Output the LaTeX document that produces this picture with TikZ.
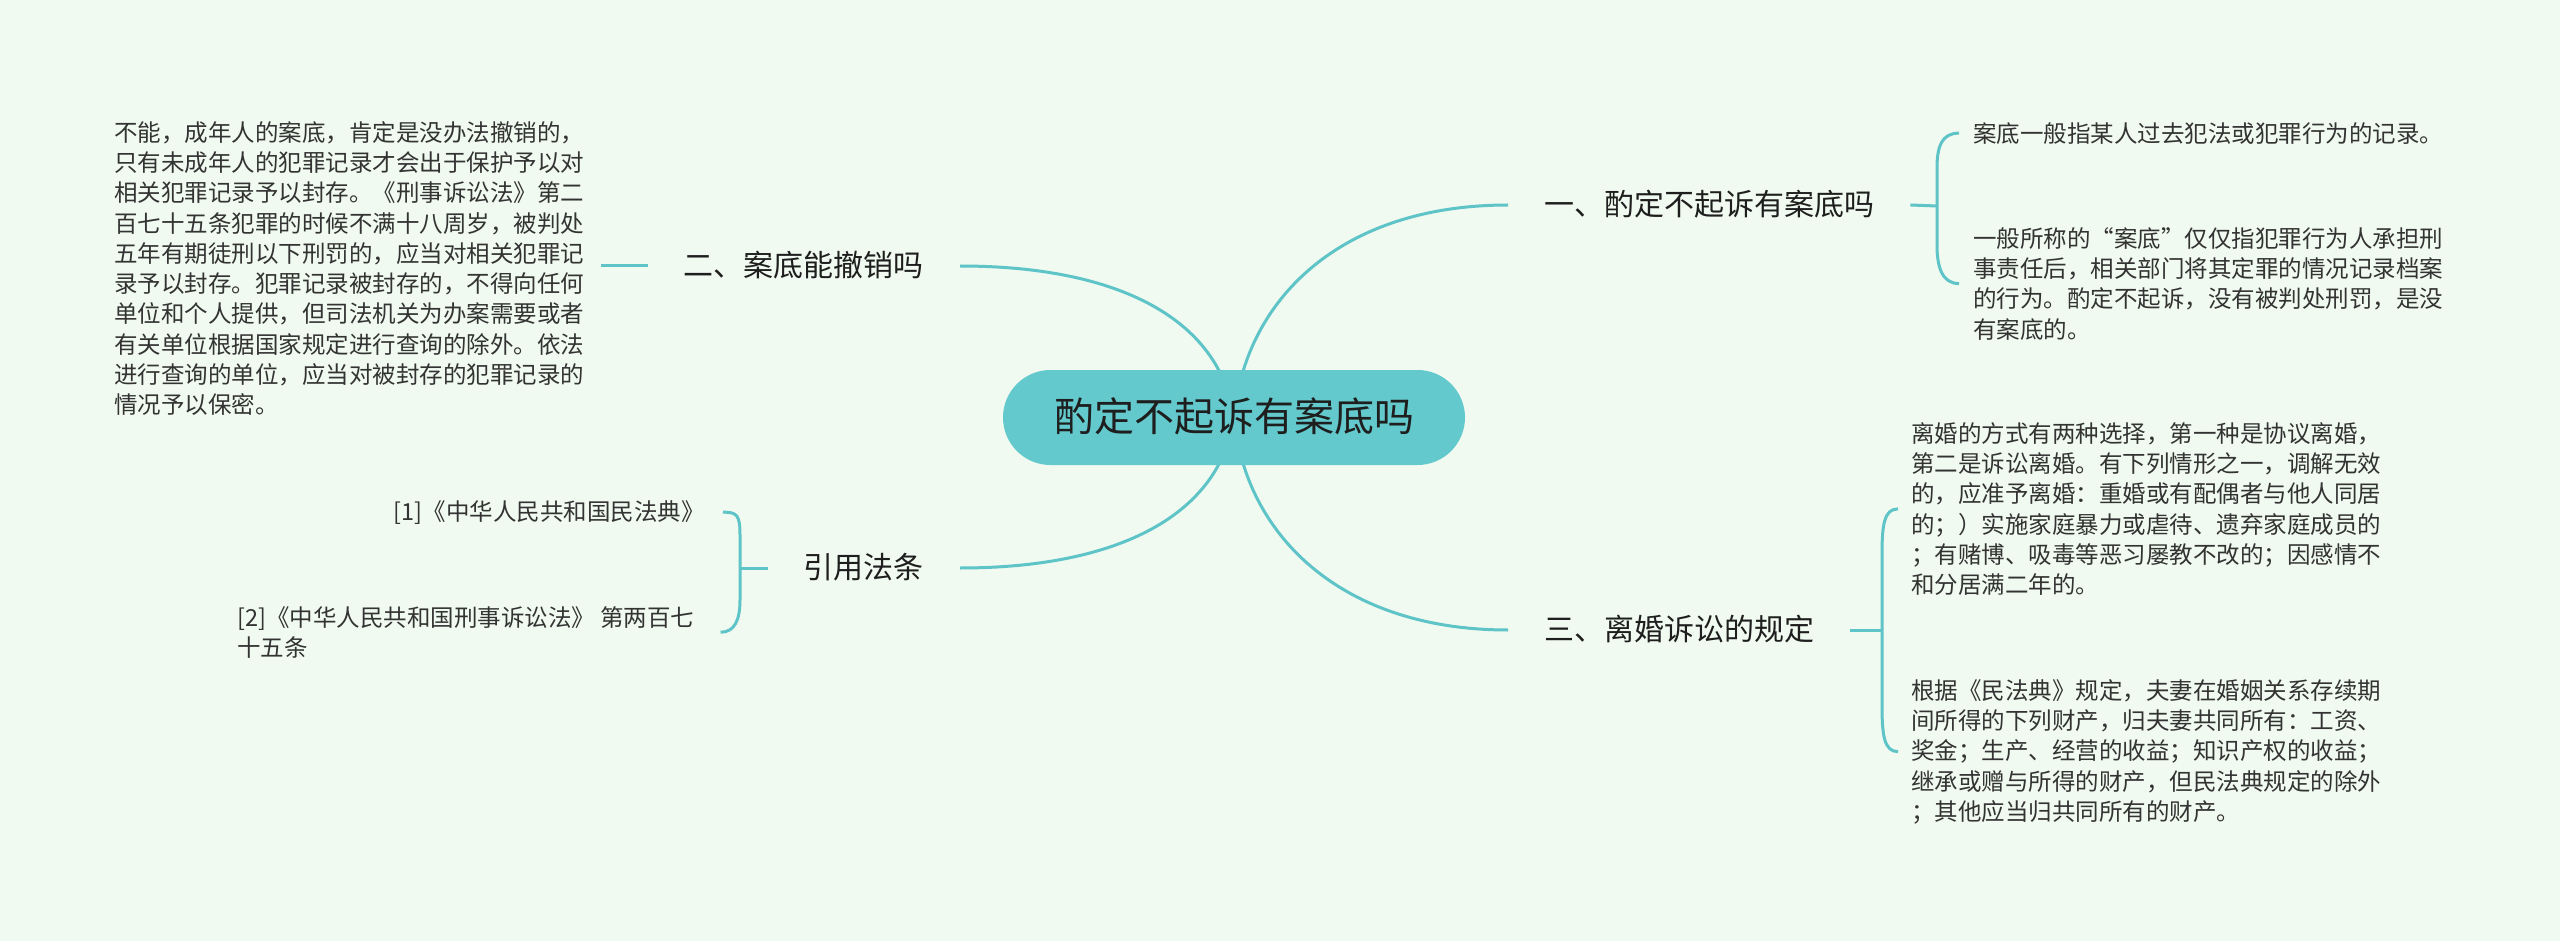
\documentclass[tikz,border=0pt]{standalone}
\usepackage{fontspec}
\newfontfamily\cjkfont{Noto Sans CJK SC}
\usetikzlibrary{calc}
\definecolor{bgc}{RGB}{240,250,240}
\definecolor{linec}{RGB}{94,196,200}
\definecolor{centc}{RGB}{99,201,204}
\definecolor{txt}{RGB}{51,51,51}
\definecolor{txtd}{RGB}{30,30,30}
\pgfdeclarelayer{back}
\pgfdeclarelayer{bg}
\pgfsetlayers{back,bg,main}
\begin{document}
\begin{tikzpicture}[x=1pt,y=-1pt,
  conn/.style={draw=linec,line width=3pt},
  centernode/.style={fill=centc, rounded corners=47.5pt, minimum width=462pt, minimum height=95pt, inner sep=0pt, text height=34pt, text depth=6pt, font=\cjkfont\fontsize{40}{48}\selectfont, text=txtd},
  branch/.style={inner xsep=36pt, inner ysep=0pt, text height=25.5pt, text depth=4.5pt, font=\cjkfont\fontsize{30}{36}\selectfont, text=txtd},
  leaf/.style={inner sep=0pt, align=left, font=\cjkfont\fontsize{23.5}{30.3}\selectfont, text=txt},
]
\useasboundingbox (0,0) rectangle (2560,941);
\begin{pgfonlayer}{back}
\fill[bgc] (0,0) rectangle (2560,941);
\end{pgfonlayer}

\node[centernode] (center) at (1234,417.5) {酌定不起诉有案底吗};
\node[branch, anchor=west] (b1) at (1508,205) {一、酌定不起诉有案底吗};
\node[branch, anchor=west] (b3) at (1508,630) {三、离婚诉讼的规定};
\node[branch, anchor=east] (b2) at (960,266) {二、案底能撤销吗};
\node[branch, anchor=east] (b4) at (960,568) {引用法条};

\node[leaf, anchor=north west] (l2) at (114,121) {不能，成年人的案底，肯定是没办法撤销的，\\只有未成年人的犯罪记录才会出于保护予以对\\相关犯罪记录予以封存。《刑事诉讼法》第二\\百七十五条犯罪的时候不满十八周岁，被判处\\五年有期徒刑以下刑罚的，应当对相关犯罪记\\录予以封存。犯罪记录被封存的，不得向任何\\单位和个人提供，但司法机关为办案需要或者\\有关单位根据国家规定进行查询的除外。依法\\进行查询的单位，应当对被封存的犯罪记录的\\情况予以保密。};
\node[leaf, anchor=north west] (l1a) at (1973,122) {案底一般指某人过去犯法或犯罪行为的记录。};
\node[leaf, anchor=north west] (l1b) at (1973,227) {一般所称的“案底”仅仅指犯罪行为人承担刑\\事责任后，相关部门将其定罪的情况记录档案\\的行为。酌定不起诉，没有被判处刑罚，是没\\有案底的。};
\node[leaf, anchor=north west] (l3a) at (1911,422) {离婚的方式有两种选择，第一种是协议离婚，\\第二是诉讼离婚。有下列情形之一，调解无效\\的，应准予离婚：重婚或有配偶者与他人同居\\的；）实施家庭暴力或虐待、遗弃家庭成员的\\；有赌博、吸毒等恶习屡教不改的；因感情不\\和分居满二年的。};
\node[leaf, anchor=north west] (l3b) at (1911,679) {根据《民法典》规定，夫妻在婚姻关系存续期\\间所得的下列财产，归夫妻共同所有：工资、\\奖金；生产、经营的收益；知识产权的收益；\\继承或赠与所得的财产，但民法典规定的除外\\；其他应当归共同所有的财产。};
\node[leaf, anchor=north east] (l4a) at (705,500) {[1]《中华人民共和国民法典》};
\node[leaf, anchor=north west] (l4b) at (237,606) {[2]《中华人民共和国刑事诉讼法》 第两百七\\十五条};

\coordinate (k1) at (1937,206);
\coordinate (k3) at (1882,630);
\coordinate (k4) at (740,568);

\begin{pgfonlayer}{bg}
\draw[conn] (center.center) .. controls (1245,300) and (1340,205) .. (b1.west);
\draw[conn] (center.center) .. controls (1220,320) and (1120,266) .. (b2.east);
\draw[conn] (center.center) .. controls (1220,514) and (1120,568) .. (b4.east);
\draw[conn] (center.center) .. controls (1245,534) and (1340,630) .. (b3.west);
\end{pgfonlayer}

\draw[conn] (b1.east) -- (k1);
\draw[conn] ([xshift=-14pt]l1a.west) .. controls +(-17,0) and +(0,-22) .. (1937,168) -- (1937,245) .. controls +(0,22) and +(-17,0) .. ([xshift=-14pt]l1b.west);

\draw[conn] (b3.east) -- (k3);
\draw[conn] ([xshift=-13pt]l3a.west) .. controls +(-14,0) and +(0,-30) .. (1882,555) -- (1882,705) .. controls +(0,30) and +(-14,0) .. ([xshift=-13pt]l3b.west);

\draw[conn] (b4.west) -- (k4);
\draw[conn] ([xshift=18pt]l4a.east) .. controls +(14,0) and +(0,-20) .. (740,535) -- (740,600) .. controls +(0,20) and +(14,0) .. ([xshift=26pt]l4b.east);

\draw[conn] (b2.west) -- ($(l2.east |- b2.west)+(17,0)$);
\end{tikzpicture}
\end{document}
